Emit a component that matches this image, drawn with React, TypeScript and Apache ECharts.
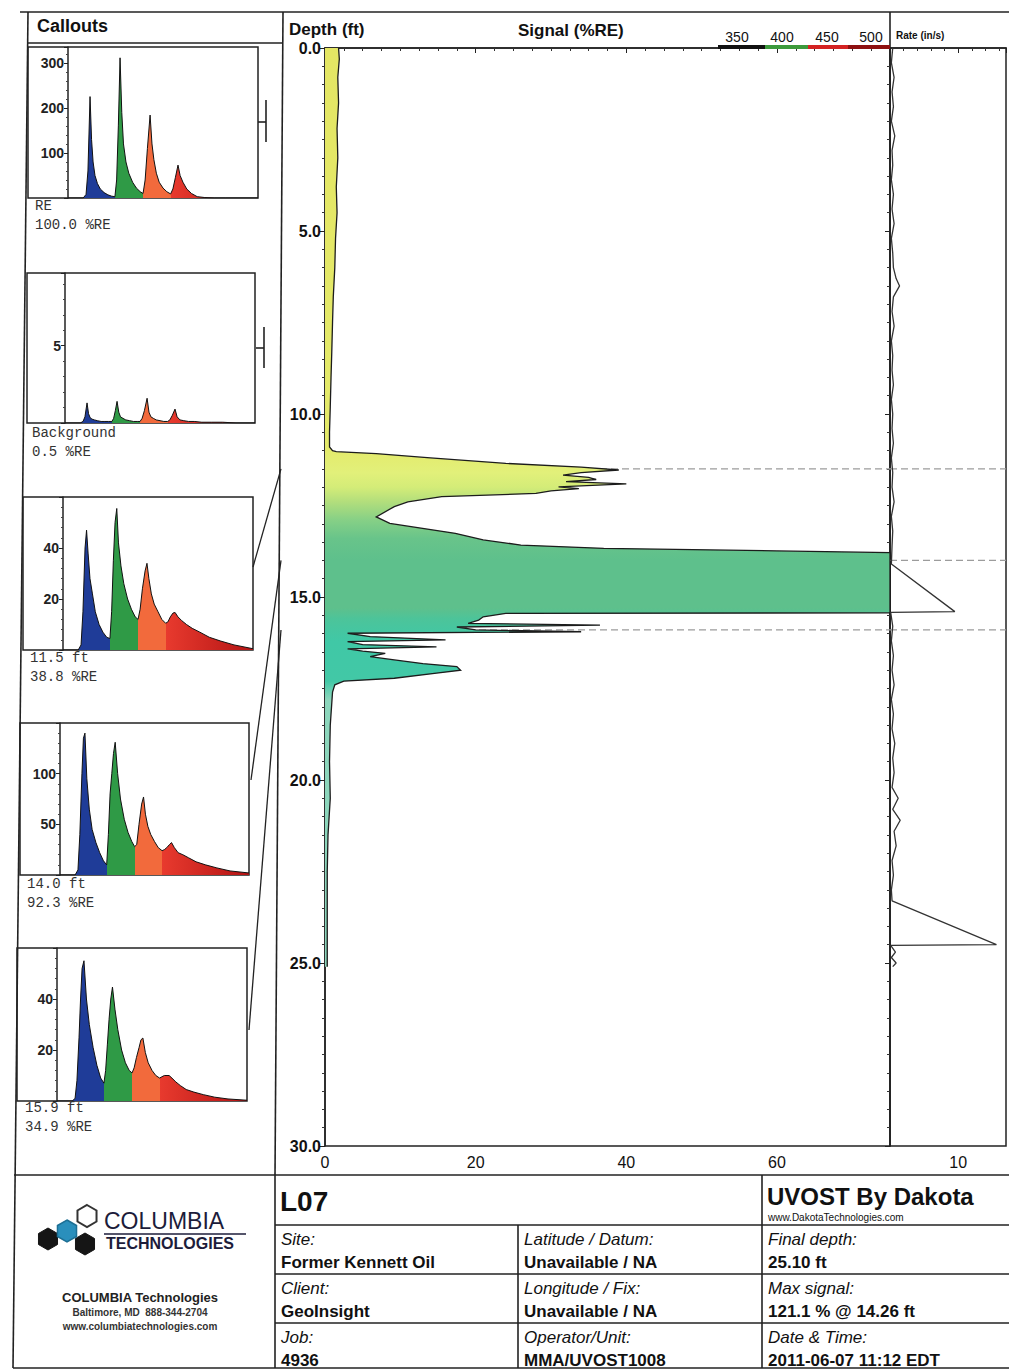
import React, { useEffect, useRef } from "react";
import * as echarts from "echarts";

// ---------- main log: depth (ft) vs signal (%RE) ----------
const depthFt = [0.0,0.3,0.8,1.5,2.2,3.0,3.8,4.5,5.2,6.0,6.8,7.5,8.3,9.0,9.8,10.5,10.9,11.0,11.03,11.08,11.2,11.35,11.45,11.53,11.6,11.67,11.73,11.79,11.85,11.91,11.99,12.04,12.1,12.17,12.26,12.4,12.53,12.81,12.99,13.26,13.44,13.58,13.67,13.74,13.79,14.0,14.26,14.6,15.0,15.3,15.43,15.45,15.54,15.63,15.72,15.77,15.82,15.9,15.95,15.99,16.08,16.17,16.22,16.3,16.36,16.42,16.48,16.54,16.63,16.72,16.82,16.9,17.0,17.08,17.22,17.3,17.4,17.6,18.5,19.5,20.5,21.5,22.5,23.5,24.5,25.1];
const signalPct = [1.8,1.9,1.7,1.8,1.6,1.7,1.5,1.6,1.4,1.3,1.1,1.0,0.9,0.8,0.7,0.6,0.6,1.0,1.5,6.8,14,24,34,39,34,31.6,35,36,32,40,31,33.7,30,28,15.5,11,9.2,6.8,8.6,17.3,21,26,37,60,78,110,121.1,115,105,95,90,24,21,20.4,19,36.5,17.5,20,34,3,6,16,3,5,14.8,3,5,8,6,9.2,13,17.5,18,14.8,9.2,2.5,1.3,1.0,0.7,0.6,0.7,0.4,0.3,0.3,0.3,0.3];
const mainSignalTickLabels = [0, 20, 40, 60];

// ---------- rate (in/s) ----------
const rateDepthFt = [0,0.4,0.8,1.2,1.6,2.0,2.4,2.8,3.2,3.6,4.0,4.4,4.8,5.2,5.6,6.0,6.3,6.5,6.8,7.2,7.6,8.0,8.4,8.8,9.2,9.6,10.0,10.4,10.8,11.2,11.6,12.0,12.4,12.8,13.2,13.6,14.1,15.4,15.42,15.8,16.2,16.6,17.0,17.4,17.8,18.2,18.6,19.0,19.4,19.8,20.2,20.5,20.8,21.1,21.4,21.8,22.2,22.6,23.0,23.3,24.5,24.52,24.7,24.85,25.0,25.1];
const rateInS = [0.4,0.2,0.6,0.3,0.5,0.2,0.7,0.3,0.4,0.2,0.5,0.3,0.6,0.2,0.4,0.5,0.9,1.4,0.5,0.3,0.6,0.2,0.4,0.3,0.5,0.2,0.4,0.3,0.5,0.2,0.4,0.3,0.6,0.2,0.4,0.3,0.2,9.5,0.1,0.4,0.2,0.5,0.3,0.6,0.2,0.5,0.3,0.7,0.4,0.6,0.3,1.2,0.4,1.5,0.6,0.9,0.3,0.5,0.2,0.3,15.6,0.1,0.8,0.2,0.9,0.4];
const rateTickLabels = [10];

// ---------- callouts ----------
const calloutDepthFt = [11.5, 14.0, 15.9];
const waveTimeNs = [0,8,9.5,10.5,11.6,12.4,13.2,14.2,15.5,17,19,21,23,24.7,25.6,26.5,27.4,28.3,29.2,30.5,32,34,36,38,39.5,40.6,41.8,43.2,44.2,45.2,46.5,48,50,52,54,55.2,56.5,57.9,59,60.5,62.5,65,68,72,77,83,90,100];
const waveRE = [0,0,8,60,225,130,80,50,32,20,12,7,4,3,40,160,311,190,120,80,55,35,22,14,10,40,110,184,120,85,55,35,22,14,9,20,45,73,50,35,20,10,3,1,0,0,0,0];
const waveBackground = [0,0,0.1,0.4,1.3,0.6,0.35,0.25,0.2,0.15,0.1,0.1,0.1,0.1,0.3,0.8,1.4,0.7,0.4,0.3,0.2,0.15,0.1,0.1,0.1,0.3,0.8,1.6,0.7,0.4,0.3,0.2,0.15,0.1,0.1,0.2,0.5,0.9,0.4,0.2,0.15,0.1,0.1,0.05,0.05,0.05,0,0];
const wave11_5 = [0,0,2,15,40,47,38,28,22,15,10,7,5,4.5,15,35,50,55.5,42,33,26,20,16,13,12,16,24,31,34,28,22,18,15,12,10.5,11,13,14.5,14.7,13,11.5,10,8.5,7,5,3.5,2,0.5];
const wave14_0 = [0,0,5,40,100,135,140,95,65,45,32,22,14,10,40,80,100,120,131,100,75,55,42,33,28,30,50,70,77,60,48,40,33,27,24,25,27,30,32,27,22,20,17,13,10,7,4,2];
const wave15_9 = [0,0,1,8,25,40,52,55,40,30,21,14,9,7,12,22,32,40,44.7,36,28,20,15,12,11,13,17,21,24,24.7,19,15,12,10,9,9.5,10,10,10,9,7.5,6,4.5,3.5,2.5,1.5,0.8,0.3];
const calloutWaves = [waveRE, waveBackground, wave11_5, wave14_0, wave15_9];
const calloutTitles = ["RE", "Background", "11.5 ft", "14.0 ft", "15.9 ft"];
const calloutValues = ["100.0 %RE", "0.5 %RE", "38.8 %RE", "92.3 %RE", "34.9 %RE"];
const calloutMax = [335, 9.7, 60, 150, 60];
const calloutInterval = [100, 5, 20, 50, 20];
const calloutTickLabels = [[100, 200, 300], [5], [20, 40], [50, 100], [20, 40]];
const bandEdgesNs = [24.7, 39.5, 54];

const wavelengthLabels = ["350", "400", "450", "500"];
const tableLabels = [
  ["Site:", "Latitude / Datum:", "Final depth:"],
  ["Client:", "Longitude / Fix:", "Max signal:"],
  ["Job:", "Operator/Unit:", "Date & Time:"],
];
const tableValues = [
  ["Former Kennett Oil", "Unavailable / NA", "25.10 ft"],
  ["GeoInsight", "Unavailable / NA", "121.1 % @ 14.26 ft"],
  ["4936", "MMA/UVOST1008", "2011-06-07 11:12 EDT"],
];

// ---------- styles / layout ----------
const SANS = '"Liberation Sans", Arial, sans-serif';
const MONO = '"Liberation Mono", "DejaVu Sans Mono", monospace';
const fillStopDepth = [0, 10.9, 11.6, 12.0, 12.4, 12.9, 13.4, 14.0, 15.3, 15.6, 16.2, 17.3, 17.8, 25.1];
const fillStopColor = ["#e4e664", "#e4ea6a", "#e2f07a", "#d4ec78", "#b2de7c", "#86d086", "#68c48a", "#5ec08c", "#5ec08c", "#4cc49a", "#40c8a6", "#42c8a6", "#8cd6bc", "#8cd6bc"];
const bandColors = ["#1f3c98", "#2f9a46", "#f26a3c", "#e83a2e", "#b41414"];

const boxes = [
  { l: 28, r: 258, t: 47, b: 198, ax: 68, tx: 35, ty: 206 },
  { l: 27, r: 255, t: 273, b: 423, ax: 65, tx: 32, ty: 433 },
  { l: 23, r: 253, t: 497, b: 650, ax: 63, tx: 30, ty: 658 },
  { l: 20, r: 249, t: 723, b: 875, ax: 60, tx: 27, ty: 884 },
  { l: 17, r: 247, t: 948, b: 1101, ax: 57, tx: 25, ty: 1108 },
];
const connectorStart = [[253, 567], [251, 780], [249, 1030]];

function ln(x1: number, y1: number, x2: number, y2: number, w = 1.5, c = "#222") {
  return { type: "line", shape: { x1, y1, x2, y2 }, style: { stroke: c, lineWidth: w }, z: 5, silent: true };
}
function txt(x: number, y: number, text: string, font: string, align = "left", fill = "#111") {
  return { type: "text", x, y, style: { text, font, fill, textAlign: align, textVerticalAlign: "middle" }, z: 10, silent: true };
}
function hex(cx: number, cy: number, r: number, fill: string, stroke: string, lw = 2) {
  const pts: number[][] = [];
  for (let k = 0; k < 6; k++) {
    const a = (Math.PI / 180) * (-90 + 60 * k);
    pts.push([cx + r * Math.cos(a), cy + r * Math.sin(a)]);
  }
  return { type: "polygon", shape: { points: pts }, style: { fill, stroke, lineWidth: lw }, z: 6, silent: true };
}

function buildStatic(): any[] {
  const g: any[] = [];
  // frame
  g.push(ln(20, 12, 1009, 12, 1.6));
  g.push(ln(28, 12, 13, 1368, 1.6));
  g.push(ln(283, 12, 275, 1175, 1.6));
  g.push(ln(28, 43, 283, 43, 1.3));
  g.push(ln(890, 12, 890, 48, 1.6));
  g.push(ln(14, 1175, 1009, 1175, 1.6));
  g.push(ln(275, 1175, 275, 1368, 1.6));
  g.push(ln(762, 1175, 762, 1368, 1.6));
  g.push(ln(518, 1225, 518, 1368, 1.6));
  g.push(ln(275, 1225, 1009, 1225, 1.6));
  g.push(ln(275, 1274, 1009, 1274, 1.6));
  g.push(ln(275, 1323, 1009, 1323, 1.6));
  g.push(ln(13, 1368, 1009, 1368, 1.6));
  // header
  g.push(txt(37, 26, "Callouts", `bold 18px ${SANS}`));
  g.push(txt(289, 29, "Depth (ft)", `bold 17px ${SANS}`));
  g.push(txt(518, 30, "Signal (%RE)", `bold 17px ${SANS}`));
  const wlX = [737, 782, 827, 871];
  wavelengthLabels.forEach((w, i) => g.push(txt(wlX[i], 37, w, `14px ${SANS}`, "center")));
  const barX = [718, 765, 808, 848, 890];
  const barC = ["#111111", "#3c9a3c", "#d42222", "#8e1010"];
  barC.forEach((c, i) =>
    g.push({ type: "rect", shape: { x: barX[i], y: 45, width: barX[i + 1] - barX[i], height: 4 }, style: { fill: c }, z: 6, silent: true })
  );
  g.push(txt(896, 35, "Rate (in/s)", `bold 10px ${SANS}`));
  // callout boxes + texts
  boxes.forEach((b, i) => {
    g.push({ type: "rect", shape: { x: b.l, y: b.t, width: b.r - b.l, height: b.b - b.t }, style: { fill: "none", stroke: "#222", lineWidth: 1.5 }, z: 1, silent: true });
    g.push(txt(b.tx, b.ty, calloutTitles[i], `14px ${MONO}`, "left", "#333"));
    g.push(txt(b.tx, b.ty + 19, calloutValues[i], `14px ${MONO}`, "left", "#333"));
  });
  g.push(ln(266, 100, 266, 142, 1.6));
  g.push(ln(258, 122, 266, 122, 1.6));
  g.push(ln(264, 327, 264, 368, 1.6));
  g.push(ln(256, 348, 264, 348, 1.6));
  // logo
  g.push(hex(87, 1216, 11, "#ffffff", "#333", 2));
  g.push(hex(48, 1239, 11, "#151515", "#151515", 1));
  g.push(hex(85, 1244, 11, "#151515", "#151515", 1));
  g.push(hex(67, 1231, 11, "#2a8fbc", "#1d6f94", 1.5));
  g.push(txt(104, 1221, "COLUMBIA", `23px ${SANS}`, "left", "#1c1c3a"));
  g.push(ln(104, 1234, 246, 1234, 1.5, "#1c1c3a"));
  g.push(txt(106, 1243, "TECHNOLOGIES", `bold 16px ${SANS}`, "left", "#1c1c3a"));
  g.push(txt(140, 1297, "COLUMBIA Technologies", `bold 13px ${SANS}`, "center", "#222"));
  g.push(txt(140, 1312, "Baltimore, MD  888-344-2704", `bold 10px ${SANS}`, "center", "#333"));
  g.push(txt(140, 1326, "www.columbiatechnologies.com", `bold 10px ${SANS}`, "center", "#333"));
  // title block
  g.push(txt(280, 1201, "L07", `bold 28px ${SANS}`));
  g.push(txt(767, 1196, "UVOST By Dakota", `bold 24px ${SANS}`));
  g.push(txt(768, 1217, "www.DakotaTechnologies.com", `10px ${SANS}`));
  const colX = [281, 524, 768];
  const labY = [1239, 1288, 1337];
  tableLabels.forEach((row, r) =>
    row.forEach((s, c) => {
      g.push(txt(colX[c], labY[r], s, `italic 17px ${SANS}`));
      g.push(txt(colX[c], labY[r] + 23, tableValues[r][c], `bold 17px ${SANS}`));
    })
  );
  return g;
}

function buildOption(): any {
  const grids: any[] = [
    { left: 325, top: 48, width: 565, height: 1098, show: true, borderColor: "#222", borderWidth: 1.5, backgroundColor: "transparent" },
    { left: 890, top: 48, width: 116, height: 1098, show: true, borderColor: "#222", borderWidth: 1.5, backgroundColor: "transparent" },
  ];
  const xAxes: any[] = [
    {
      gridIndex: 0, type: "value", min: 0, max: 75, interval: 20,
      axisLine: { show: true, lineStyle: { color: "#222", width: 1.5 } },
      axisTick: { show: true, length: 5, lineStyle: { color: "#222" } },
      minorTick: { show: true, splitNumber: 8, length: 3, lineStyle: { color: "#333" } },
      axisLabel: { fontFamily: SANS, fontSize: 16, color: "#111", margin: 8, formatter: (v: number) => (mainSignalTickLabels.includes(v) ? String(v) : "") },
      splitLine: { show: false },
    },
    {
      gridIndex: 1, type: "value", min: 0, max: 17, interval: 10,
      axisLine: { show: true, lineStyle: { color: "#222", width: 1.5 } },
      axisTick: { show: true, length: 5, lineStyle: { color: "#222" } },
      minorTick: { show: true, splitNumber: 5, length: 3, lineStyle: { color: "#333" } },
      axisLabel: { fontFamily: SANS, fontSize: 16, color: "#111", margin: 8, formatter: (v: number) => (rateTickLabels.includes(v) ? String(v) : "") },
      splitLine: { show: false },
    },
  ];
  const depthAxisBase = {
    type: "value", inverse: true, min: 0, max: 30, interval: 5,
    axisLine: { show: true, lineStyle: { color: "#222", width: 1.5 } },
    axisTick: { show: true, length: 5, lineStyle: { color: "#222" } },
    minorTick: { show: true, splitNumber: 10, length: 3, lineStyle: { color: "#333" } },
    splitLine: { show: false },
  };
  const yAxes: any[] = [
    { ...depthAxisBase, gridIndex: 0, axisLabel: { fontFamily: SANS, fontSize: 16, fontWeight: "bold", color: "#111", margin: 4, formatter: (v: number) => v.toFixed(1) } },
    { ...depthAxisBase, gridIndex: 1, axisLabel: { show: false } },
  ];
  const series: any[] = [];

  // dashed callout depth markers (beneath fill)
  const dashedItem = (params: any, api: any) => {
    const cs = params.coordSys;
    const y = api.coord([0, api.value(1)])[1];
    return { type: "line", shape: { x1: cs.x, y1: y, x2: cs.x + cs.width, y2: y }, style: { stroke: "#9c9c9c", lineWidth: 1.3, lineDash: [7, 4] } };
  };
  series.push({ type: "custom", xAxisIndex: 0, yAxisIndex: 0, data: calloutDepthFt.map((d) => [0, d]), renderItem: dashedItem, z: 1, silent: true });

  // main fill
  const d0 = depthFt[0];
  const dN = depthFt[depthFt.length - 1];
  const stops = fillStopDepth.map((d, i) => ({ offset: Math.min(1, Math.max(0, (d - d0) / (dN - d0))), color: fillStopColor[i] }));
  series.push({
    type: "custom", xAxisIndex: 0, yAxisIndex: 0, z: 3, silent: true,
    data: depthFt.map((d, i) => [signalPct[i], d]),
    renderItem: (params: any, api: any) => {
      if (params.dataIndex !== 0) return null;
      const cs = params.coordSys;
      const right = cs.x + cs.width;
      const pts = depthFt.map((d, i) => {
        const p = api.coord([signalPct[i], d]);
        return [Math.min(p[0], right), p[1]];
      });
      const start = api.coord([0, d0]);
      const end = api.coord([0, dN]);
      return {
        type: "group",
        children: [
          { type: "polygon", shape: { points: [start, ...pts, end] }, style: { fill: { type: "linear", x: 0, y: 0, x2: 0, y2: 1, colorStops: stops }, stroke: "none" } },
          { type: "polyline", shape: { points: pts }, style: { stroke: "#1c1c1c", lineWidth: 1.3, fill: "none" } },
        ],
      };
    },
  });

  // rate
  series.push({ type: "custom", xAxisIndex: 1, yAxisIndex: 1, data: calloutDepthFt.map((d) => [0, d]), renderItem: dashedItem, z: 1, silent: true });
  series.push({
    type: "line", xAxisIndex: 1, yAxisIndex: 1, symbol: "none", z: 4,
    data: rateDepthFt.map((d, i) => [rateInS[i], d]),
    lineStyle: { color: "#333", width: 1.3 },
  });

  // callouts
  const bandStops: any[] = [];
  const edges = bandEdgesNs.map((e) => e / 100);
  bandStops.push({ offset: 0, color: bandColors[0] }, { offset: edges[0], color: bandColors[0] });
  bandStops.push({ offset: edges[0], color: bandColors[1] }, { offset: edges[1], color: bandColors[1] });
  bandStops.push({ offset: edges[1], color: bandColors[2] }, { offset: edges[2], color: bandColors[2] });
  bandStops.push({ offset: edges[2], color: bandColors[3] }, { offset: 1, color: bandColors[4] });

  boxes.forEach((b, i) => {
    const gi = grids.length;
    grids.push({ left: b.ax, top: b.t, width: b.r - b.ax, height: b.b - b.t, show: false });
    xAxes.push({ gridIndex: gi, type: "value", min: 0, max: 100, show: false });
    yAxes.push({
      gridIndex: gi, type: "value", min: 0, max: calloutMax[i], interval: calloutInterval[i],
      axisLine: { show: true, lineStyle: { color: "#222", width: 1.5 } },
      axisTick: { show: true, length: 4, lineStyle: { color: "#222" } },
      minorTick: { show: true, splitNumber: 5, length: 2, lineStyle: { color: "#444" } },
      axisLabel: {
        fontFamily: SANS, fontSize: 14, fontWeight: "bold", color: "#222", margin: 4,
        formatter: (v: number) => (calloutTickLabels[i].includes(v) ? String(v) : ""),
      },
      splitLine: { show: false },
    });
    series.push({
      type: "line", xAxisIndex: gi, yAxisIndex: gi, symbol: "none", z: 3,
      data: waveTimeNs.map((t, k) => [t, calloutWaves[i][k]]),
      lineStyle: { color: "#111", width: 1 },
      areaStyle: { opacity: 1, color: { type: "linear", x: 0, y: 0, x2: 1, y2: 0, colorStops: bandStops } },
    });
  });

  return {
    animation: false,
    backgroundColor: "#ffffff",
    grid: grids,
    xAxis: xAxes,
    yAxis: yAxes,
    series,
  };
}

export default function App() {
  const ref = useRef<HTMLDivElement>(null);
  useEffect(() => {
    if (!ref.current) return;
    const chart = echarts.init(ref.current, null, { renderer: "svg" });
    chart.setOption(buildOption());
    const connectors = calloutDepthFt.map((d, k) => {
      const y = chart.convertToPixel({ yAxisIndex: 0 } as any, d) as unknown as number;
      const s = connectorStart[k];
      return ln(s[0], s[1], 281, y, 1.3);
    });
    chart.setOption({ graphic: { elements: [...buildStatic(), ...connectors] } });
    return () => chart.dispose();
  }, []);
  return (
    <div
      ref={ref}
      style={{ position: "absolute", left: 0, top: 0, width: 1009, height: 1372, background: "#fff" }}
    />
  );
}
